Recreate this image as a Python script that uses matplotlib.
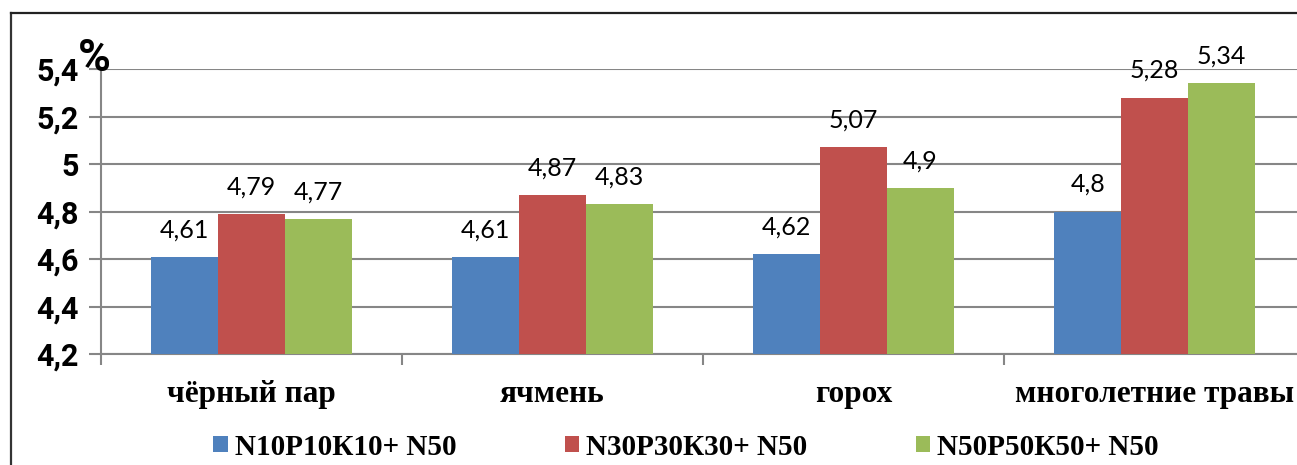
import matplotlib.pyplot as plt
import numpy as np
from matplotlib.lines import Line2D

categories = ["чёрный пар", "ячмень", "горох", "многолетние травы"]
series_names = ["N10P10К10+ N50", "N30P30К30+ N50", "N50P50К50+ N50"]
low_dose = [4.61, 4.61, 4.62, 4.8]
mid_dose = [4.79, 4.87, 5.07, 5.28]
high_dose = [4.77, 4.83, 4.9, 5.34]
yticks = [4.2, 4.4, 4.6, 4.8, 5.0, 5.2, 5.4]

colors = ["#4F81BD", "#C0504D", "#9BBB59"]
grid_color = "#868686"


def comma(v):
    return ("%g" % v).replace(".", ",")


fig = plt.figure(figsize=(12.97, 4.65), dpi=100)
ax = fig.add_axes([101 / 1297, 111 / 465, 1204 / 1297, 285 / 465])

x = np.arange(len(categories))
width = 0.222
for i, (vals, name, c) in enumerate(zip([low_dose, mid_dose, high_dose], series_names, colors)):
    pos = x + (i - 1) * width
    ax.bar(pos, np.array(vals) - 4.2, width, bottom=4.2, color=c, label=name, zorder=3)
    for px, v in zip(pos, vals):
        ax.annotate(comma(v), (px, v), xytext=(0, 14), textcoords="offset points",
                    ha="center", va="baseline", fontsize=18, family="Lato")

ax.set_xlim(-0.5, len(categories) - 0.5)
ax.set_ylim(4.2, 5.4)
ax.set_yticks(yticks)
ax.set_yticklabels([comma(round(t, 1)) for t in yticks], fontsize=22,
                   fontweight="bold", family="Roboto")
ax.yaxis.grid(True, color=grid_color, linewidth=1.5, zorder=0)

ax.set_xticks(x)
ax.set_xticklabels(categories, fontsize=22.5, fontweight="bold", family="Liberation Serif")
ax.set_xticks(np.arange(len(categories) + 1) - 0.5, minor=True)
ax.tick_params(axis="x", which="major", length=0, pad=19)
ax.tick_params(axis="x", which="minor", length=8, color=grid_color, width=1.5)
ax.tick_params(axis="y", length=9, color=grid_color, width=1.5, pad=7)

for s in ["top", "right"]:
    ax.spines[s].set_visible(False)
ax.spines["left"].set_color(grid_color)
ax.spines["left"].set_linewidth(1.5)
ax.spines["bottom"].set_color(grid_color)
ax.spines["bottom"].set_linewidth(1.5)

fig.text(78 / 1297, 1 - 71 / 465, "%", fontsize=32, fontweight="bold", family="Roboto")

leg = fig.legend(loc="center", bbox_to_anchor=(0.529, 1 - 447 / 465), ncol=3, frameon=False,
                 prop={"family": "Liberation Serif", "weight": "bold", "size": 21},
                 handlelength=0.5, handleheight=0.5, handletextpad=0.25, columnspacing=3.7)

# chart frame
fig.add_artist(Line2D([11 / 1297, 11 / 1297], [0, 1 - 13 / 465], color="#333333", linewidth=1.6))
fig.add_artist(Line2D([11 / 1297, 1], [1 - 13 / 465, 1 - 13 / 465], color="#222222", linewidth=1.6))

fig.savefig("out.png", dpi=100)
